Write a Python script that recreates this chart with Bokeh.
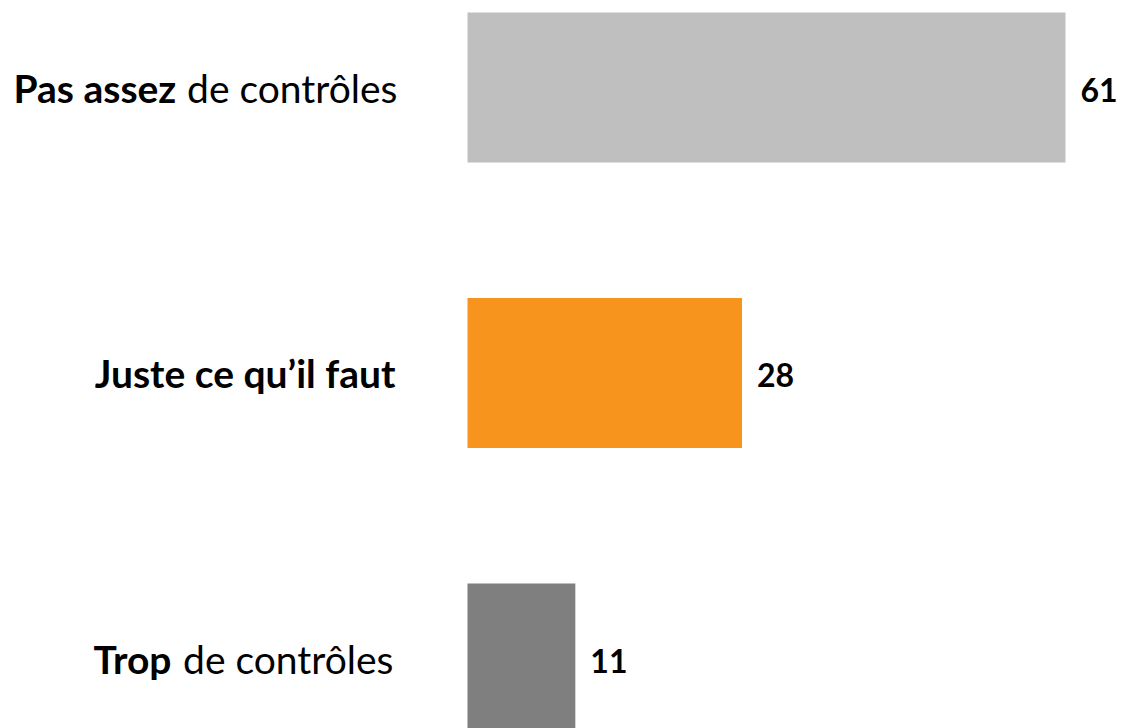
from bokeh.plotting import figure
from bokeh.models import Range1d, ColumnDataSource
from bokeh.core.properties import value
from bokeh.embed import file_html
from bokeh.resources import INLINE

categories = ["Pas assez de contrôles", "Juste ce qu’il faut", "Trop de contrôles"]
bold_parts = ["Pas assez", "Juste ce qu’il faut", "Trop"]
normal_parts = ["de contrôles", "", "de contrôles"]
values = [61, 28, 11]
colors = ["#BFBFBF", "#F7941E", "#7F7F7F"]

ypos = list(range(len(categories)))

W, H = 1121, 728
px_per_unit = 598 / 61.0
x0_px = 467
x_start = -x0_px / px_per_unit
x_end = (W - x0_px) / px_per_unit
step = 285.5
y_top = -87 / step
y_bot = (H - 87) / step

p = figure(width=W, height=H, output_backend="svg", toolbar_location=None,
           x_range=Range1d(x_start, x_end), y_range=Range1d(y_bot, y_top),
           min_border=0, outline_line_color=None)
p.axis.visible = False
p.grid.visible = False
p.background_fill_color = "white"
p.border_fill_color = "white"

src = ColumnDataSource(dict(y=ypos, v=values, c=colors, zero=[0] * 3,
                            lab=[str(v) for v in values]))
p.hbar(y="y", left="zero", right="v", height=150 / step, fill_color="c",
       line_color=None, source=src)

p.text(x="v", y="y", text="lab", source=src, x_offset=15, y_offset=2,
       text_font=value("Lato"), text_font_style="bold", text_font_size="32px",
       text_baseline="middle", text_align="left", text_color="black")

FS = "39px"
# bold parts with a following normal part: left-aligned
lab_bold_left = dict(y=[ypos[0], ypos[2]], t=[bold_parts[0], bold_parts[2]],
                     off=[13 - x0_px, 93 - x0_px])
p.text(x=0, y="y", text="t", x_offset="off", source=ColumnDataSource(lab_bold_left),
       text_font=value("Lato"), text_font_style="bold", text_font_size=FS,
       text_baseline="middle", text_align="left", text_color="black")
# normal parts: right-aligned
lab_norm = dict(y=[ypos[0], ypos[2]], t=[normal_parts[0], normal_parts[2]],
                off=[397 - x0_px, 393 - x0_px])
p.text(x=0, y="y", text="t", x_offset="off", source=ColumnDataSource(lab_norm),
       text_font=value("Lato"), text_font_style="normal", text_font_size=FS,
       text_baseline="middle", text_align="right", text_color="black")
# fully bold label
lab_full = dict(y=[ypos[1]], t=[bold_parts[1]], off=[395 - x0_px])
p.text(x=0, y="y", text="t", x_offset="off", source=ColumnDataSource(lab_full),
       text_font=value("Lato"), text_font_style="bold", text_font_size=FS,
       text_baseline="middle", text_align="right", text_color="black")

open("out.html", "w").write(file_html(p, INLINE))
